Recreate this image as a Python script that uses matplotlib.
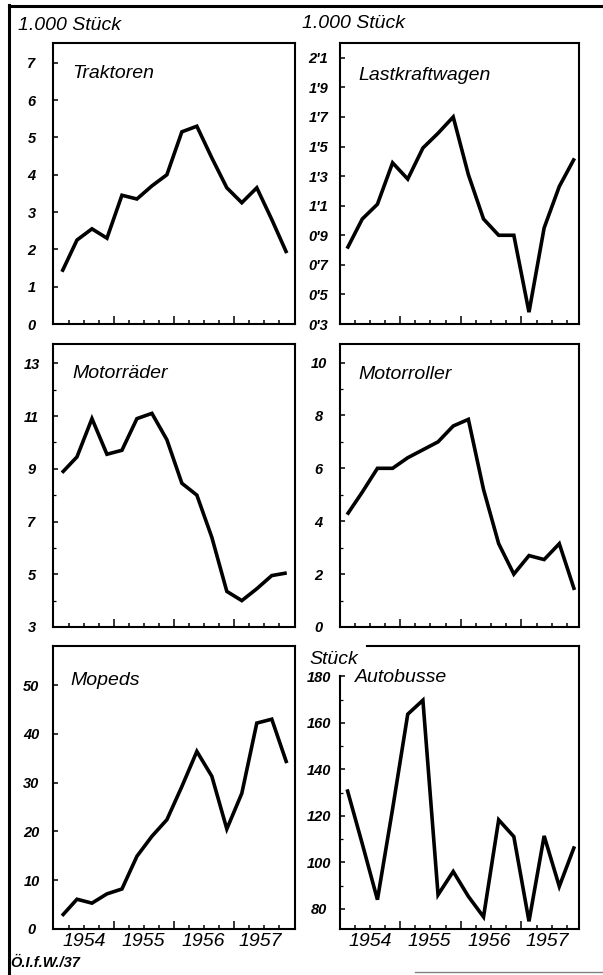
import numpy as np
import matplotlib
matplotlib.use('Agg')
import matplotlib.pyplot as plt
from matplotlib.lines import Line2D
from matplotlib.transforms import blended_transform_factory

plt.rcParams['font.family'] = ['Liberation Sans', 'DejaVu Sans']

# quarterly values 1954 I .. 1957 IV
quarters = np.arange(16)
traktoren = [1.4, 2.25, 2.55, 2.3, 3.45, 3.35, 3.7, 4.0, 5.15, 5.3, 4.45, 3.65, 3.25, 3.65, 2.8, 1.9]
lastkraftwagen = [0.81, 1.01, 1.11, 1.39, 1.28, 1.49, 1.59, 1.70, 1.31, 1.01, 0.9, 0.9, 0.38, 0.95, 1.23, 1.42]
motorraeder = [8.85, 9.45, 10.9, 9.55, 9.7, 10.9, 11.1, 10.1, 8.45, 8.0, 6.4, 4.35, 4.0, 4.45, 4.95, 5.05]
motorroller = [4.25, 5.1, 6.0, 6.0, 6.4, 6.7, 7.0, 7.6, 7.85, 5.2, 3.15, 2.0, 2.7, 2.55, 3.15, 1.4]
mopeds = [2.7, 6.1, 5.3, 7.2, 8.2, 14.9, 19.0, 22.4, 29.2, 36.4, 31.3, 20.5, 27.8, 42.2, 43.0, 34.0]
autobusse = [131.4, 108, 84, 123, 163.7, 169.7, 86.1, 96.1, 85.4, 76.6, 118.3, 111.1, 74.7, 111.4, 89.7, 106.9]

years = ['1954', '1955', '1956', '1957']
year_pos = [1.5, 5.4, 9.4, 13.2]

panels = [
    # name, data, ylim, ticks, labels, minor ticks
    ('Traktoren', traktoren, (0, 7.53), list(range(8)), [str(i) for i in range(8)], []),
    ('Lastkraftwagen', lastkraftwagen, (0.3, 2.2),
     [0.3, 0.5, 0.7, 0.9, 1.1, 1.3, 1.5, 1.7, 1.9, 2.1],
     ["0'3", "0'5", "0'7", "0'9", "1'1", "1'3", "1'5", "1'7", "1'9", "2'1"], []),
    ('Motorräder', motorraeder, (3, 13.73), [3, 5, 7, 9, 11, 13],
     ['3', '5', '7', '9', '11', '13'], [4, 6, 8, 10, 12]),
    ('Motorroller', motorroller, (0, 10.7), [0, 2, 4, 6, 8, 10],
     ['0', '2', '4', '6', '8', '10'], [1, 3, 5, 7, 9]),
    ('Mopeds', mopeds, (0, 58), [0, 10, 20, 30, 40, 50],
     ['0', '10', '20', '30', '40', '50'], []),
    ('Autobusse', autobusse, (71.4, 193), [80, 100, 120, 140, 160, 180],
     ['80', '100', '120', '140', '160', '180'], [90, 110, 130, 150, 170]),
]

W, H = 603, 975
fig = plt.figure(figsize=(W / 100, H / 100), dpi=100)

# panel boxes in pixels: left, top, right, bottom
cols = [(53, 295), (340, 579)]
rows = [(43, 324), (344, 627), (646, 929)]
title_pos = [(0.079, 0.875), (0.075, 0.868), (0.079, 0.88),
             (0.075, 0.876), (0.07, 0.862), (0.063, 0.873)]

axes = []
for i, (name, vals, ylim, ticks, labels, minor) in enumerate(panels):
    r, c = divmod(i, 2)
    x0, x1 = cols[c]
    y0, y1 = rows[r]
    ax = fig.add_axes([x0 / W, 1 - y1 / H, (x1 - x0) / W, (y1 - y0) / H])
    axes.append(ax)
    ax.plot(quarters, vals, color='black', lw=2.6, solid_joinstyle='miter',
            solid_capstyle='butt')
    if c == 0:
        ax.set_xlim(-0.6, 15.55)
    else:
        ax.set_xlim(-0.47, 15.3)
    ax.set_ylim(*ylim)
    for s in ax.spines.values():
        s.set_linewidth(1.5)
    ax.set_xticks([3.5, 7.5, 11.5])
    ax.set_xticks(np.arange(0.5, 15, 1.0), minor=True)
    ax.set_xticklabels([])
    ax.tick_params(axis='x', which='major', direction='in', length=6, width=1.1)
    ax.tick_params(axis='x', which='minor', direction='in', length=3, width=1.1)
    ax.set_yticks(ticks)
    ax.set_yticks(minor, minor=True)
    ax.set_yticklabels(labels, fontsize=10.5, fontweight='bold', fontstyle='italic')
    for t in ax.get_yticklabels():
        t.set_horizontalalignment('center')
    ax.tick_params(axis='y', which='major', direction='in', length=3.5, width=1.1, pad=15.5)
    ax.tick_params(axis='y', which='minor', direction='in', length=2, width=0.9)
    ax.text(title_pos[i][0], title_pos[i][1], name, transform=ax.transAxes,
            fontsize=14, fontstyle='italic', va='baseline', ha='left')
    if r == 2:
        tr = blended_transform_factory(ax.transData, ax.transAxes)
        for yp, yl in zip(year_pos, years):
            ax.text(yp, -0.043, yl, transform=tr, ha='center', va='center',
                    fontsize=14, fontstyle='italic',
                    family=['Liberation Sans Narrow', 'Liberation Sans', 'DejaVu Sans'])

# Autobusse: left axis stops at 180, top frame starts after the unit label
axes[5].spines['left'].set_bounds(71.4, 180)
axes[5].spines['top'].set_bounds(1.3, 15.3)

# unit labels
fig.text(18 / W, 1 - 25 / H, '1.000 Stück', fontsize=14, fontstyle='italic',
         ha='left', va='center')
fig.text(302 / W, 1 - 24 / H, '1.000 Stück', fontsize=14, fontstyle='italic',
         ha='left', va='center')
fig.text(309 / W, 1 - 660 / H, 'Stück', fontsize=14, fontstyle='italic',
         ha='left', va='center')
fig.text(10 / W, 1 - 963 / H, 'Ö.I.f.W./37', fontsize=10.5, fontstyle='italic',
         fontweight='bold', ha='left', va='center')

# outer frame lines of the original sheet
fig.add_artist(Line2D([9 / W, 9 / W], [0, 1 - 5 / H], color='black', lw=2.2))
fig.add_artist(Line2D([9 / W, 1], [1 - 6 / H, 1 - 6 / H], color='black', lw=2.2))
fig.add_artist(Line2D([415 / W, 1], [1 - 972 / H, 1 - 972 / H], color='0.5', lw=1.0))

fig.savefig('out.png', dpi=100)
